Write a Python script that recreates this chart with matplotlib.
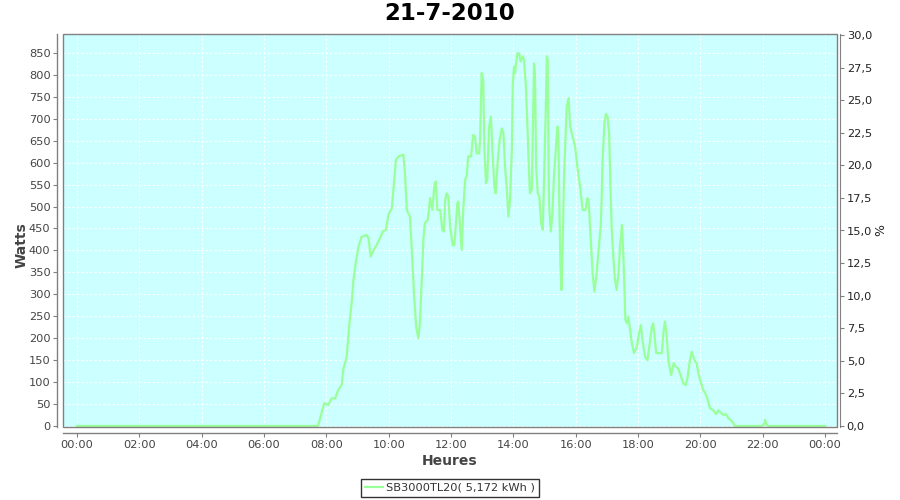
import matplotlib
matplotlib.use("Agg")
import matplotlib.pyplot as plt
from matplotlib.patches import Rectangle
from matplotlib.lines import Line2D

# ---- data (hours of day, watts) ----
hours = [0.00, 7.70, 7.74, 7.93, 8.06, 8.17, 8.28, 8.38, 8.49, 8.54, 8.65, 8.74, 8.81, 8.87,
         8.94, 9.03, 9.13, 9.29, 9.35, 9.42, 9.49, 9.61, 9.72, 9.81, 9.91, 9.99, 10.10,
         10.15, 10.23, 10.31, 10.47, 10.52, 10.58, 10.68, 10.74, 10.81, 10.88, 10.95, 11.00,
         11.06, 11.11, 11.16, 11.25, 11.33, 11.40, 11.46, 11.51, 11.56, 11.65, 11.72, 11.77,
         11.81, 11.86, 11.91, 11.97, 12.05, 12.10, 12.15, 12.20, 12.23, 12.29, 12.34, 12.39,
         12.45, 12.50, 12.55, 12.64, 12.71, 12.77, 12.82, 12.90, 12.93, 12.98, 13.03, 13.07,
         13.12, 13.16, 13.22, 13.28, 13.32, 13.39, 13.43, 13.50, 13.56, 13.63, 13.68, 13.73,
         13.79, 13.84, 13.89, 13.95, 13.98, 14.02, 14.05, 14.08, 14.13, 14.18, 14.23, 14.30,
         14.34, 14.40, 14.45, 14.49, 14.53, 14.59, 14.62, 14.66, 14.69, 14.73, 14.78, 14.83,
         14.89, 14.94, 14.98, 15.04, 15.07, 15.10, 15.14, 15.20, 15.25, 15.30, 15.36, 15.41,
         15.44, 15.47, 15.51, 15.54, 15.58, 15.62, 15.67, 15.71, 15.77, 15.82, 15.90, 15.98,
         16.05, 16.14, 16.22, 16.31, 16.37, 16.41, 16.48, 16.54, 16.60, 16.67, 16.73, 16.80,
         16.83, 16.86, 16.92, 16.97, 17.02, 17.07, 17.11, 17.15, 17.21, 17.26, 17.31, 17.37,
         17.42, 17.48, 17.52, 17.56, 17.59, 17.64, 17.69, 17.73, 17.80, 17.87, 17.96, 18.03,
         18.09, 18.14, 18.22, 18.30, 18.36, 18.44, 18.48, 18.52, 18.58, 18.67, 18.76, 18.81,
         18.86, 18.91, 18.97, 19.06, 19.14, 19.21, 19.29, 19.38, 19.45, 19.53, 19.59, 19.67,
         19.72, 19.77, 19.83, 19.88, 19.93, 20.02, 20.09, 20.15, 20.20, 20.31, 20.41, 20.50,
         20.58, 20.65, 20.74, 20.82, 20.90, 20.97, 21.06, 21.11, 21.98, 22.04, 22.07, 22.12,
         22.18, 24.00]
watts = [0, 0, 2, 52, 48, 63, 63, 82, 93, 128, 158, 234, 280, 333,
         371, 409, 431, 435, 428, 386, 397, 412, 428, 443, 447, 481, 496,
         538, 606, 614, 618, 576, 492, 477, 401, 302, 226, 200, 234,
         333, 424, 462, 469, 519, 492, 545, 557, 492, 492, 447, 443,
         515, 530, 523, 454, 412, 412, 454, 507, 511, 454, 401, 492,
         561, 568, 614, 614, 663, 659, 621, 621, 652, 804, 789, 629,
         553, 561, 682, 705, 636, 545, 530, 606, 652, 678, 667, 591,
         538, 477, 515, 629, 781, 819, 804, 823, 849, 849, 830, 842,
         834, 773, 682, 599, 530, 538, 652, 826, 804, 591, 530, 523,
         462, 447, 553, 728, 842, 834, 507, 443, 485, 568, 629, 682,
         667, 515, 363, 310, 409, 561, 652, 728, 747, 682, 659, 636,
         591, 545, 492, 492, 519, 515, 424, 348, 306, 348, 401, 454,
         515, 606, 690, 711, 705, 667, 553, 454, 378, 333, 310, 348,
         409, 458, 401, 317, 242, 234, 249, 226, 188, 166, 181, 211,
         230, 196, 158, 150, 181, 226, 234, 211, 166, 166, 166, 211,
         238, 211, 150, 116, 143, 135, 131, 112, 97, 93, 112, 154,
         169, 158, 147, 143, 120, 97, 82, 75, 67, 40, 36, 27,
         36, 30, 25, 27, 17, 14, 6, 0, 0, 4, 14, 3,
         0, 0]

title = "21-7-2010"
series_label = "SB3000TL20( 5,172 kWh )"
x_ticks = list(range(0, 25, 2))
x_ticklabels = ["%02d:00" % (h % 24) for h in x_ticks]
y_ticks = list(range(0, 851, 50))
pct_ticks = [0, 2.5, 5, 7.5, 10, 12.5, 15, 17.5, 20, 22.5, 25, 27.5, 30]
pct_ticklabels = [("%.1f" % v).replace(".", ",") for v in pct_ticks]

# ---- styling ----
W, H = 900, 500
fig = plt.figure(figsize=(9, 5), dpi=100)
fig.patch.set_facecolor("white")
L, R, T, B = 63, 837, 34, 427
ax = fig.add_axes([L / W, 1 - B / H, (R - L) / W, (B - T) / H])
ax.set_facecolor("#ccffff")

axis_col = "#808080"
tick_col = "#444444"

ax.plot(hours, watts, color="#99ff99", lw=1.6, solid_joinstyle="round", zorder=3)

ax.set_xlim(-0.449, 24.38)
ax.set_ylim(-2.3, 893)
ax.set_xticks(x_ticks)
ax.set_xticklabels(x_ticklabels)
ax.set_yticks(y_ticks)
ax.grid(True, color="white", lw=0.8, ls=(0, (2, 2)))
ax.set_axisbelow(True)

for s in ["top", "right"]:
    ax.spines[s].set_visible(False)
ax.spines["left"].set_position(("outward", 4))
ax.spines["bottom"].set_position(("outward", 4))
ax.spines["left"].set_color(axis_col)
ax.spines["bottom"].set_color(axis_col)
ax.spines["left"].set_linewidth(1.0)
ax.spines["bottom"].set_linewidth(1.0)
ax.tick_params(axis="both", colors=axis_col, labelcolor=tick_col, labelsize=8.2,
               length=3, width=0.8, pad=2)

# plot outline
ax.add_patch(Rectangle((0, 0), 1, 1, transform=ax.transAxes, fill=False,
                       edgecolor=axis_col, lw=1.0, zorder=5, clip_on=False))

ax2 = ax.twinx()
ax2.set_ylim(-0.08, 30.08)
ax2.set_yticks(pct_ticks)
ax2.set_yticklabels(pct_ticklabels)
for s in ["top", "left", "bottom"]:
    ax2.spines[s].set_visible(False)
ax2.spines["right"].set_position(("outward", 2))
ax2.spines["right"].set_color(axis_col)
ax2.tick_params(axis="y", colors=axis_col, labelcolor="#222222", labelsize=8.2,
                length=3, width=0.8, pad=2)

fig.text(0.5, 1 - 14 / H, title, ha="center", va="center", fontsize=16.5,
         fontweight="bold", color="black")
fig.text(22 / W, 1 - 245 / H, "Watts", rotation=90, ha="center", va="center",
         fontsize=10, color="#444444", fontweight="bold")
fig.text(0.5, 1 - 461 / H, "Heures", ha="center", va="center",
         fontsize=10, color="#444444", fontweight="bold")
fig.text(881 / W, 1 - 230 / H, "%", rotation=90, ha="center", va="center",
         fontsize=9, color="#222222")

handle = Line2D([], [], color="#99ff99", lw=1.6)
leg = fig.legend([handle], [series_label], loc="center", bbox_to_anchor=(0.5, 1 - 488 / H),
                 frameon=True, fancybox=False, fontsize=8.2, handlelength=1.6,
                 handletextpad=0.3, borderpad=0.35, borderaxespad=0)
leg.get_frame().set_edgecolor("black")
leg.get_frame().set_linewidth(1.0)
for t in leg.get_texts():
    t.set_color("#333333")

fig.savefig("out.png", dpi=100)
